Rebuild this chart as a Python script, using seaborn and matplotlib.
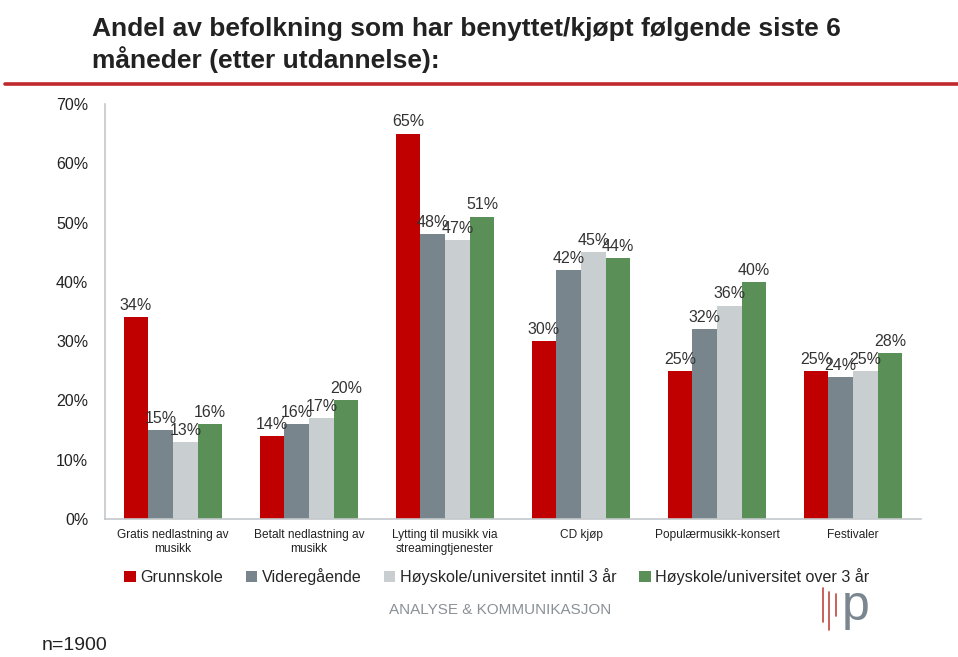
import matplotlib
matplotlib.use("Agg")
import matplotlib.pyplot as plt
import seaborn as sns
import pandas as pd
from matplotlib.patches import Patch

categories = ["Gratis nedlastning av\nmusikk", "Betalt nedlastning av\nmusikk",
              "Lytting til musikk via\nstreamingtjenester", "CD kjøp",
              "Populærmusikk-konsert", "Festivaler"]
series = ["Grunnskole", "Videregående", "Høyskole/universitet inntil 3 år",
          "Høyskole/universitet over 3 år"]
grunnskole = [34, 14, 65, 30, 25, 25]
videregaende = [15, 16, 48, 42, 32, 24]
hoy_inntil3 = [13, 17, 47, 45, 36, 25]
hoy_over3 = [16, 20, 51, 44, 40, 28]
y_ticks = [0, 10, 20, 30, 40, 50, 60, 70]
colors = ["#C00000", "#78858D", "#C9CED1", "#5A9057"]

rows = []
for s, vals in zip(series, [grunnskole, videregaende, hoy_inntil3, hoy_over3]):
    for c, v in zip(categories, vals):
        rows.append({"cat": c, "serie": s, "val": v})
df = pd.DataFrame(rows)

sns.set_style("white")
plt.rcParams['font.family'] = ['Liberation Sans', 'DejaVu Sans']

fig = plt.figure(figsize=(9.58, 6.57), dpi=100)
ax = fig.add_axes([105/958, 1-519/657, (921-105)/958, (519-104)/657])

sns.barplot(data=df, x="cat", y="val", hue="serie", order=categories,
            hue_order=series, palette=colors, width=0.726, gap=0,
            linewidth=0, saturation=1, ax=ax, legend=False, errorbar=None)

for cont in ax.containers:
    ax.bar_label(cont, labels=[f"{int(round(b.get_height()))}%" for b in cont],
                 padding=3, fontsize=11.5, color="#333333")

ax.set_ylim(0, 70)
ax.set_xlim(-0.5, len(categories) - 0.5)
ax.set_yticks(y_ticks)
ax.set_yticklabels([f"{t}%" for t in y_ticks], fontsize=11.5, color="#222222")
ax.tick_params(axis="x", labelsize=8.6, colors="#222222", length=0, pad=7)
ax.tick_params(axis="y", length=0, pad=12)
ax.set_xlabel("")
ax.set_ylabel("")
for sp in ["top", "right"]:
    ax.spines[sp].set_visible(False)
for sp in ["left", "bottom"]:
    ax.spines[sp].set_color("#C4C8CC")
    ax.spines[sp].set_linewidth(1.2)

# legend
handles = [Patch(facecolor=c, edgecolor="none") for c in colors]
fig.legend(handles, series, loc="center", bbox_to_anchor=(497/958, 1-577/657),
           ncol=4, frameon=False, fontsize=11.6, handlelength=0.7, handleheight=0.7,
           handletextpad=0.3, columnspacing=1.4)

# title and decorations
fig.text(92/958, 1-45/657, "Andel av befolkning som har benyttet/kjøpt følgende siste 6\nmåneder (etter utdannelse):",
         fontsize=19, fontweight="bold", color="#222222", va="center", ha="left",
         linespacing=1.25)
fig.add_artist(plt.Line2D([5/958, 1.0], [1-84/657, 1-84/657], color="#C0282D", lw=2.6,
                          transform=fig.transFigure))
fig.text(500/958, 1-610/657, "ANALYSE & KOMMUNIKASJON", fontsize=11, color="#8A9197",
         ha="center", va="center")
for xx, y0, y1 in [(823, 588, 622), (829, 592, 630), (836, 594, 616)]:
    fig.add_artist(plt.Line2D([xx/958, xx/958], [1-y1/657, 1-y0/657],
                              color="#C0463C", lw=1.2, transform=fig.transFigure))
fig.text(856/958, 1-607/657, "p", fontsize=36, color="#7A8790", ha="center", va="center")
fig.text(42/958, 1-646/657, "n=1900", fontsize=14, color="#222222", ha="left", va="center")

fig.savefig("out.png", dpi=100)
